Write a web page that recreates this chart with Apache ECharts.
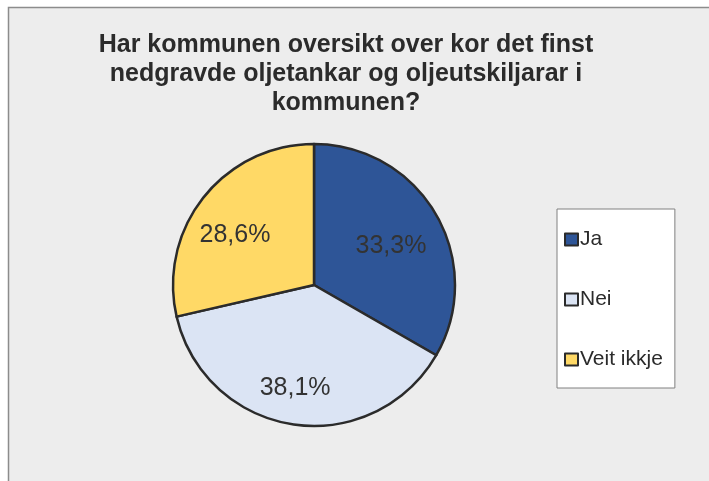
<!DOCTYPE html>
<html>
<head>
<meta charset="utf-8">
<script src="https://cdn.jsdelivr.net/npm/echarts@6/dist/echarts.min.js"></script>
<style>
  html, body { margin: 0; padding: 0; background: #fff; }
  #chart { width: 709px; height: 481px; }
</style>
</head>
<body>
<div id="chart"></div>
<script>
// svar på spørsmålet, prosent
const categories = ['Ja', 'Nei', 'Veit ikkje'];
const shares = [33.3, 38.1, 28.6];
const colors = ['#2e5597', '#dbe4f4', '#ffd966'];
const titleLines = [
  'Har kommunen oversikt over kor det finst',
  'nedgravde oljetankar og oljeutskiljarar i',
  'kommunen?'
];

const pieCenter = [314, 285];
const pieRadius = 141;

const pieData = categories.map((name, i) => ({
  name: name,
  value: shares[i],
  itemStyle: { color: colors[i] }
}));

const myChart = echarts.init(document.getElementById('chart'), null, { renderer: 'canvas' });

myChart.setOption({
  backgroundColor: '#ffffff',
  animation: false,
  graphic: [
    {
      type: 'rect',
      z: -10,
      silent: true,
      shape: { x: 8.5, y: 7.5, width: 720, height: 500 },
      style: { fill: '#ededed', stroke: '#8c8c8c', lineWidth: 1.5 }
    },
    {
      type: 'text',
      z: 10,
      silent: true,
      x: 346,
      y: 31,
      style: {
        text: titleLines.join('\n'),
        font: 'bold 25px "Liberation Sans", Arial, sans-serif',
        lineHeight: 29,
        fill: '#2b2b2b',
        align: 'center',
        verticalAlign: 'top'
      }
    }
  ],
  legend: {
    orient: 'vertical',
    left: 557,
    top: 209,
    padding: [20, 12, 18, 7],
    itemGap: 39,
    itemWidth: 13,
    itemHeight: 12,
    selectedMode: false,
    backgroundColor: '#ffffff',
    borderColor: '#808080',
    borderWidth: 1,
    borderRadius: 0,
    icon: 'rect',
    data: categories,
    itemStyle: { borderColor: '#2b2b2b', borderWidth: 2 },
    textStyle: {
      fontFamily: '"Liberation Sans", Arial, sans-serif',
      fontSize: 21,
      lineHeight: 21,
      color: '#2b2b2b',
      padding: [0, 0, 0, -3]
    }
  },
  series: [
    {
      name: 'svar',
      type: 'pie',
      center: pieCenter,
      radius: [0, pieRadius],
      startAngle: 90,
      clockwise: true,
      silent: true,
      label: { show: false },
      labelLine: { show: false },
      itemStyle: { borderColor: '#2b2b2b', borderWidth: 2.5 },
      emphasis: { disabled: true },
      data: pieData
    },
    {
      // usynleg ring berre for å plassere prosentetikettane
      name: 'etikettar',
      type: 'pie',
      center: pieCenter,
      radius: [0, pieRadius * 1.3],
      startAngle: 90,
      clockwise: true,
      silent: true,
      z: 3,
      itemStyle: { color: 'rgba(0,0,0,0)', borderWidth: 0 },
      emphasis: { disabled: true },
      label: {
        show: true,
        position: 'inside',
        offset: [-5, 9],
        fontFamily: '"Liberation Sans", Arial, sans-serif',
        fontSize: 25,
        color: '#333333',
        formatter: p => p.value.toFixed(1).replace('.', ',') + '%'
      },
      labelLine: { show: false },
      data: categories.map((name, i) => ({ name: name, value: shares[i] }))
    }
  ]
});
</script>
</body>
</html>
